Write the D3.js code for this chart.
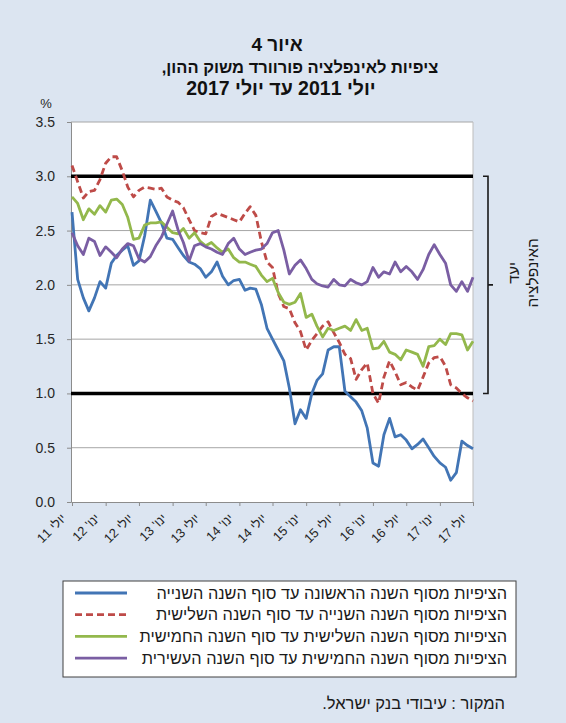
<!DOCTYPE html>
<html><head><meta charset="utf-8">
<script src="https://cdn.jsdelivr.net/npm/d3@7/dist/d3.min.js"></script>
<style>body{margin:0;background:#fff}svg{display:block}</style>
</head><body>
<svg id="c" width="566" height="723"></svg>
<script>
// ---- data ----
const startMonth = new Date(2011, 6, 1);   // July 2011
const endMonth = new Date(2017, 6, 1);     // July 2017
const months = d3.timeMonth.range(startMonth, d3.timeMonth.offset(endMonth, 1));

const tickLabels = ["יולי 11","ינו' 12","יולי 12","ינו' 13","יולי 13","ינו' 14","יולי 14",
                    "ינו' 15","יולי 15","ינו' 16","יולי 16","ינו' 17","יולי 17"];
const yTicks = [0, 0.5, 1.0, 1.5, 2.0, 2.5, 3.0, 3.5];
const targetBand = [1.0, 3.0];

const seriesNames = [
  "הציפיות מסוף השנה הראשונה עד סוף השנה השנייה",
  "הציפיות מסוף השנה השנייה עד סוף השנה השלישית",
  "הציפיות מסוף השנה השלישית עד סוף השנה החמישית",
  "הציפיות מסוף השנה החמישית עד סוף השנה העשירית"
];
const year1to2 = [2.67,2.05,1.88,1.76,1.88,2.03,1.97,2.20,2.27,2.32,2.36,2.18,2.22,2.45,2.78,2.68,2.57,2.43,2.42,2.34,2.27,2.21,2.19,2.15,
  2.07,2.12,2.21,2.08,2.00,2.04,2.05,1.95,1.97,1.96,1.82,1.60,1.50,1.40,1.30,1.05,0.72,0.85,0.77,1.00,1.12,1.18,1.40,1.43,
  1.43,1.02,0.97,0.92,0.84,0.68,0.36,0.33,0.62,0.77,0.60,0.62,0.57,0.49,0.53,0.58,0.50,0.42,0.36,0.32,0.20,0.27,0.56,0.52,0.49];
const year2to3 = [3.10,2.95,2.80,2.86,2.87,2.97,3.12,3.18,3.18,3.05,2.90,2.81,2.87,2.90,2.89,2.88,2.89,2.81,2.78,2.76,2.71,2.60,2.50,2.48,2.47,2.63,2.66,2.64,2.62,2.60,2.58,2.66,2.72,2.64,2.40,2.21,2.16,
  1.92,1.80,1.78,1.65,1.57,1.40,1.49,1.55,1.62,1.66,1.56,
  1.47,1.36,1.32,1.13,1.22,1.28,1.00,0.91,1.15,1.30,1.20,1.08,1.10,1.06,1.03,1.15,1.28,1.33,1.34,1.25,1.08,1.05,1.00,0.96,0.93];
const year3to5 = [2.81,2.75,2.60,2.70,2.65,2.73,2.67,2.78,2.79,2.74,2.62,2.42,2.43,2.55,2.57,2.57,2.58,2.53,2.48,2.47,2.52,2.43,2.48,2.40,2.36,2.39,2.34,2.30,2.33,2.25,2.21,2.21,2.19,2.17,2.09,2.03,2.06,
  1.93,1.84,1.82,1.84,1.92,1.70,1.73,1.62,1.52,1.60,1.58,
  1.60,1.62,1.58,1.68,1.58,1.60,1.41,1.42,1.48,1.38,1.36,1.31,1.40,1.38,1.36,1.25,1.43,1.44,1.50,1.45,1.55,1.55,1.54,1.40,1.48];
const year5to10 = [2.48,2.36,2.28,2.43,2.40,2.27,2.35,2.30,2.25,2.33,2.38,2.36,2.24,2.21,2.26,2.36,2.44,2.56,2.68,2.50,2.39,2.22,2.36,2.38,2.35,2.33,2.30,2.28,2.38,2.43,2.33,2.28,2.30,2.32,2.33,2.38,2.48,
  2.50,2.32,2.10,2.18,2.23,2.15,2.05,2.01,1.99,1.98,2.05,
  2.00,1.99,2.05,2.02,2.00,2.03,2.16,2.07,2.12,2.10,2.21,2.12,2.17,2.12,2.05,2.14,2.28,2.37,2.28,2.20,2.00,1.94,2.03,1.94,2.07];
const seriesValues = [year1to2, year2to3, year3to5, year5to10];
const seriesColors = ["#4275b5", "#be4b48", "#93b84c", "#7a5ea3"];
const seriesDash = [null, "7,4", null, null];

// ---- layout ----
const W = 566, H = 723;
const plot = {left: 71, right: 473, top: 122, bottom: 502};
const FONT = "'Liberation Sans', Arial, 'DejaVu Sans', sans-serif";

const svg = d3.select("#c");
svg.append("rect").attr("x", 0).attr("y", 0).attr("width", W).attr("height", H).attr("fill", "#dce5f1");

const x = d3.scaleTime().domain([startMonth, endMonth]).range([plot.left + 1, plot.right]);
const y = d3.scaleLinear().domain([0, 3.5]).range([plot.bottom, plot.top]);

// title
const titleLines = [
  {t: "איור 4", cx: 277, by: 51, fs: 19},
  {t: "ציפיות לאינפלציה פורוורד משוק ההון,", cx: 300, by: 73, fs: 16.5},
  {t: "יולי 2011 עד יולי 2017", cx: 281, by: 95, fs: 19.5}
];
svg.selectAll("text.title").data(titleLines).join("text")
  .attr("class", "title")
  .attr("x", d => d.cx).attr("y", d => d.by)
  .attr("text-anchor", "middle").attr("direction", "rtl")
  .attr("font-family", FONT).attr("font-weight", "bold").attr("font-size", d => d.fs)
  .attr("fill", "#111").text(d => d.t);

// plot background
svg.append("rect").attr("x", plot.left).attr("y", plot.top)
  .attr("width", plot.right - plot.left).attr("height", plot.bottom - plot.top)
  .attr("fill", "#fff");

// gridlines
svg.append("g").selectAll("line").data(yTicks.filter(v => v > 0)).join("line")
  .attr("x1", plot.left).attr("x2", plot.right)
  .attr("y1", d => y(d)).attr("y2", d => y(d))
  .attr("stroke", "#a6a6a6").attr("stroke-width", 1);
// right border
svg.append("line").attr("x1", plot.right).attr("x2", plot.right)
  .attr("y1", plot.top).attr("y2", plot.bottom).attr("stroke", "#bdbdbd");

// y axis
const yAxis = d3.axisLeft(y).tickValues(yTicks).tickFormat(d3.format(".1f")).tickSize(4).tickPadding(12);
const gy = svg.append("g").attr("transform", `translate(${plot.left},0)`).call(yAxis);
gy.select(".domain").attr("stroke", "#8c8c8c");
gy.selectAll(".tick line").attr("stroke", "#8c8c8c");
gy.selectAll(".tick text").attr("font-family", FONT).attr("font-size", 14).attr("fill", "#262626");
svg.append("text").attr("x", 46).attr("y", 108).attr("text-anchor", "middle")
  .attr("font-family", FONT).attr("font-size", 13).attr("fill", "#262626").text("%");

// x axis
const tickDates = tickLabels.map((_, i) => d3.timeMonth.offset(startMonth, i * 6));
const xAxis = d3.axisBottom(x).tickValues(tickDates).tickSize(4).tickFormat("");
const gx = svg.append("g").attr("transform", `translate(0,${plot.bottom})`).call(xAxis);
gx.select(".domain").attr("stroke", "#8c8c8c");
gx.selectAll(".tick line").attr("stroke", "#8c8c8c");
svg.append("g").selectAll("text").data(tickDates).join("text")
  .attr("transform", (d) => `translate(${x(d) - 5},${plot.bottom + 17}) rotate(-45)`)
  .attr("text-anchor", "start").attr("direction", "rtl")
  .attr("font-family", FONT).attr("font-size", 13).attr("fill", "#262626")
  .text((d, i) => tickLabels[i]);

// target band lines
svg.append("g").selectAll("line").data(targetBand).join("line")
  .attr("x1", plot.left).attr("x2", plot.right)
  .attr("y1", d => y(d)).attr("y2", d => y(d))
  .attr("stroke", "#000").attr("stroke-width", 3.5);

// series
const line = d3.line().x((d, i) => x(months[i])).y(d => y(d));
svg.append("g").selectAll("path").data(seriesValues).join("path")
  .attr("d", d => line(d))
  .attr("fill", "none")
  .attr("stroke", (d, i) => seriesColors[i])
  .attr("stroke-width", 2.8)
  .attr("stroke-linejoin", "round")
  .attr("stroke-dasharray", (d, i) => seriesDash[i]);

// bracket
const bx = 488;
const yb1 = y(targetBand[1]), yb0 = y(targetBand[0]), ym = (yb1 + yb0) / 2;
svg.append("path")
  .attr("d", `M${bx - 5},${yb1} H${bx} V${yb0} H${bx - 5} M${bx},${ym} H${bx + 5}`)
  .attr("fill", "none").attr("stroke", "#1a1a1a").attr("stroke-width", 1.6);
const bl = svg.append("text")
  .attr("transform", `translate(519,${ym - 12}) rotate(-90)`)
  .attr("text-anchor", "middle").attr("direction", "rtl")
  .attr("font-family", FONT).attr("font-size", 15.5).attr("fill", "#1a1a1a");
bl.append("tspan").attr("x", 0).attr("dy", 0).text("יעד");
bl.append("tspan").attr("x", 0).attr("dy", 19).text("האינפלציה");

// legend
const lg = {x: 63, y: 581, w: 453, h: 96};
svg.append("rect").attr("x", lg.x).attr("y", lg.y).attr("width", lg.w).attr("height", lg.h)
  .attr("fill", "#fff").attr("stroke", "#404040").attr("stroke-width", 1);
const rowY = i => lg.y + 12 + i * 21.7;
const lgRows = svg.append("g").selectAll("g").data(seriesNames).join("g");
lgRows.append("line")
  .attr("x1", 75).attr("x2", 127)
  .attr("y1", (d, i) => rowY(i)).attr("y2", (d, i) => rowY(i))
  .attr("stroke", (d, i) => seriesColors[i]).attr("stroke-width", 2.8)
  .attr("stroke-dasharray", (d, i) => seriesDash[i]);
lgRows.append("text")
  .attr("x", 507).attr("y", (d, i) => rowY(i) + 5.5)
  .attr("text-anchor", "start").attr("direction", "rtl")
  .attr("font-family", FONT).attr("font-size", 16.3).attr("fill", "#1a1a1a")
  .text(d => d);

// source
svg.append("text").attr("x", 505).attr("y", 709)
  .attr("text-anchor", "start").attr("direction", "rtl")
  .attr("font-family", FONT).attr("font-size", 16.5).attr("fill", "#1a1a1a")
  .text("המקור : עיבודי בנק ישראל.");
</script></body></html>
